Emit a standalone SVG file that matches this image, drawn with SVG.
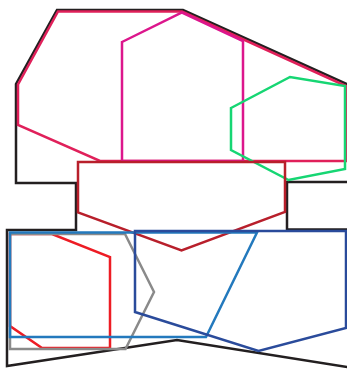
<svg xmlns="http://www.w3.org/2000/svg" width="347" height="369" viewBox="0 0 347 369">
<style>
.s{fill:none;stroke-width:2.5;stroke-linejoin:miter}
</style>
<rect width="347" height="369" fill="#ffffff"/>
<g id="black"><polygon class="s" stroke="#231f20" points="57,10 183,10 352,86.3 352,182 287,182 287,229.5 352,229.5 352,367.8 177,340 7,366 7,230 76,230 76,183 16,183 16,84"/></g>
<g id="crimson"><polygon class="s" stroke="#e0205a" points="58,11.5 182,11.5 346,86 346,161 100,161 18,125 18,84.5"/></g>
<g id="magenta"><polygon class="s" stroke="#dc168c" points="122,42 182,12.5 243,41 243,161 122,161"/></g>
<g id="green"><polygon class="s" stroke="#16d673" points="231,108 290,77 345,86 345,169 288.5,180 231,150"/></g>
<g id="firebrick"><polygon class="s" stroke="#b81f2b" points="78,162 285,162 285,212 181.5,250.5 78,212.5"/></g>
<g id="red"><polygon class="s" stroke="#ed1c24" points="10,234 52,234 110,257 110,348 42,348 10,326"/></g>
<g id="gray"><polygon class="s" stroke="#8a8a8a" points="10,234 125,234 154,292 125.5,349 10,349"/></g>
<g id="steelblue"><polygon class="s" stroke="#2379bd" points="10,232.5 257,232.5 206,337 10,337"/></g>
<g id="navy"><polygon class="s" stroke="#2a4b9b" points="135,231 346,231 346,328 258.5,351 135,312"/></g>
</svg>
